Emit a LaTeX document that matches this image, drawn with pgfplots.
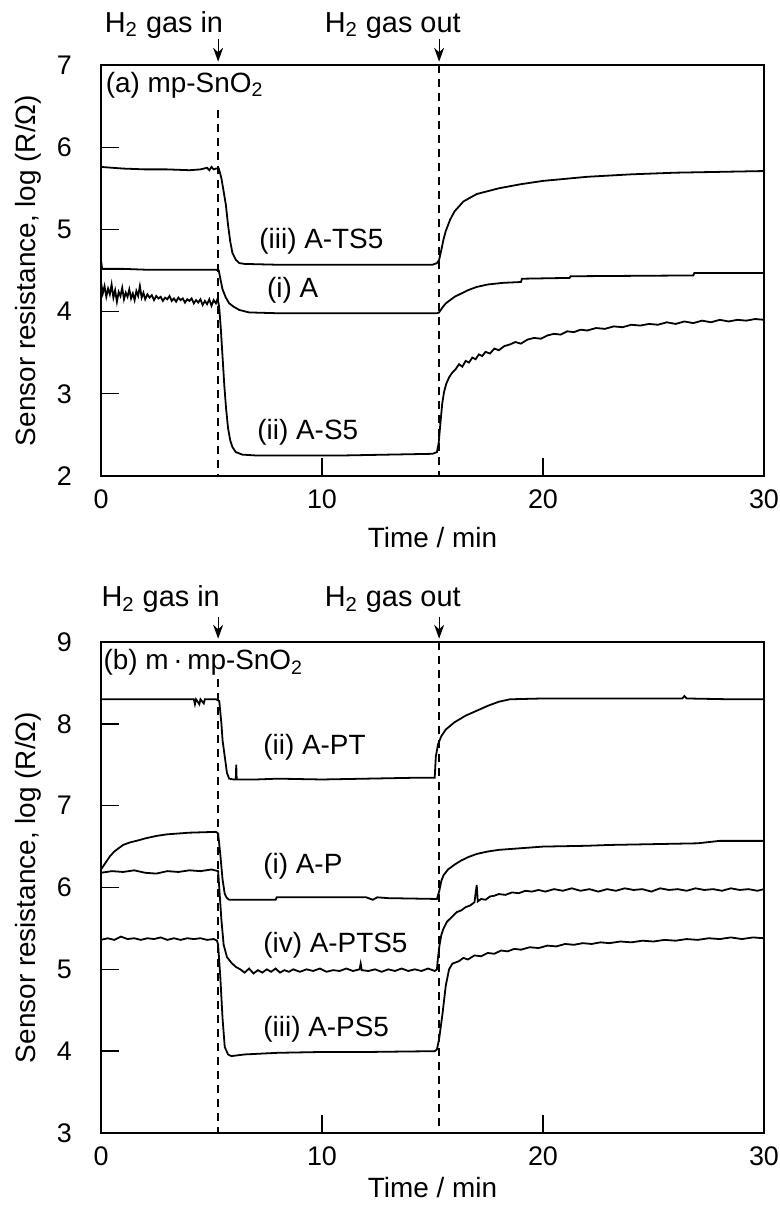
\documentclass[border=0pt]{standalone}
\usepackage{fontspec}
\setmainfont{Liberation Sans}
\usepackage{pgfplots}
\pgfplotsset{compat=1.18}
\usetikzlibrary{arrows.meta}

\newcommand{\tck}{\fontsize{13.5}{16}\selectfont}
\newcommand{\lbl}{\fontsize{14}{17}\selectfont}
\newcommand{\gas}{\fontsize{14.5}{17}\selectfont}

\pgfplotsset{
  sensor/.style={
    scale only axis,
    width=331.5bp,
    xmin=0, xmax=30,
    xtick={0,10,20,30},
    tick pos=left,
    tick align=inside,
    major tick length=9bp,
    axis line style={line width=0.9pt},
    every tick/.style={black, line width=0.7pt},
    tick label style={font=\tck},
    yticklabel style={xshift=-11bp},
    xticklabel style={yshift=-3.5bp},
    /pgf/number format/assume math mode=true,
    label style={font=\lbl},
    xlabel={Time / min},
    ylabel={Sensor resistance, log (R/Ω)},
    ylabel style={at={(ticklabel cs:0.5,1bp)}},
    clip=false,
  },
}
\tikzset{
  curve/.style={black, line width=0.9pt, mark=none},
  gasline/.style={dash pattern=on 4bp off 3bp, line width=0.7pt},
  gasarrow/.style={-{Stealth[length=7bp,width=5bp]}, line width=0.6pt},
}

\begin{document}
\begin{tikzpicture}
\path[use as bounding box] (0,0) rectangle (390bp,-602.5bp);

% ---------- (a) mp-SnO2 ----------
\begin{axis}[sensor,
    at={(50.5bp,-32.5bp)}, anchor=north west,
    height=205.5bp,
    ymin=2, ymax=7, ytick={2,...,7},
    xlabel style={yshift=-2.5bp},
  ]
  % (iii) A-TS5
  \addplot[curve] coordinates {
    (0,5.76) (0.5,5.75) (1,5.74) (2,5.73) (3,5.73) (4,5.72) (4.5,5.73)
    (4.8,5.75) (4.9,5.72) (5.0,5.76) (5.1,5.73) (5.2,5.74) (5.33,5.74)
    (5.45,5.62) (5.55,5.46) (5.65,5.3) (5.75,5.05) (5.85,4.85) (5.95,4.71)
    (6.1,4.63) (6.26,4.59) (6.5,4.58) (8,4.57) (10,4.57) (12,4.57) (14,4.57)
    (15.0,4.57) (15.2,4.59) (15.3,4.63) (15.4,4.75) (15.5,4.88) (15.6,4.98)
    (15.8,5.12) (16.0,5.22) (16.4,5.34) (17,5.43) (18,5.5) (19,5.55)
    (20,5.59) (22,5.64) (24,5.67) (26,5.69) (28,5.7) (30,5.71)
  };
  % (i) A
  \addplot[curve] coordinates {
    (0,4.63) (0.05,4.52) (1,4.52) (2,4.51) (3,4.51) (5.2,4.51) (5.33,4.5)
    (5.4,4.4) (5.5,4.27) (5.65,4.17) (5.8,4.1) (6.0,4.06) (6.26,4.02)
    (6.7,3.99) (8,3.98) (15.2,3.98) (15.3,3.99) (15.45,4.05) (15.6,4.1)
    (15.8,4.14) (16.0,4.18) (16.3,4.22) (16.6,4.26) (17.0,4.3) (17.5,4.33)
    (18.2,4.35) (19.0,4.36) (19.05,4.4) (21.2,4.41) (21.25,4.43)
    (26.8,4.44) (26.85,4.47) (30,4.47)
  };
  % (ii) A-S5
  \addplot[curve] coordinates {
    (0.00,4.36) (0.08,4.22) (0.16,4.31) (0.24,4.18) (0.32,4.28) (0.40,4.21)
    (0.48,4.33) (0.56,4.17) (0.64,4.26) (0.72,4.12) (0.80,4.24) (0.88,4.19)
    (0.96,4.29) (1.04,4.15) (1.12,4.23) (1.20,4.18) (1.28,4.27) (1.36,4.16)
    (1.44,4.22) (1.52,4.14) (1.60,4.25) (1.68,4.19) (1.76,4.31) (1.84,4.17)
    (1.92,4.23) (2.00,4.15) (2.10,4.21) (2.20,4.17) (2.30,4.20) (2.40,4.14)
    (2.50,4.19) (2.60,4.16) (2.70,4.18) (2.80,4.13) (2.90,4.17) (3.00,4.15)
    (3.10,4.19) (3.20,4.13) (3.30,4.16) (3.40,4.12) (3.50,4.17) (3.60,4.14)
    (3.70,4.16) (3.80,4.11) (3.90,4.15) (4.00,4.13) (4.10,4.16) (4.20,4.10)
    (4.30,4.14) (4.40,4.11) (4.50,4.15) (4.60,4.08) (4.70,4.13) (4.80,4.09)
    (4.90,4.15) (5.00,4.07) (5.10,4.14) (5.20,4.10) (5.28,4.16) (5.35,4.05)
    (5.42,3.80) (5.50,3.45) (5.58,3.10) (5.66,2.82) (5.75,2.58) (5.85,2.43)
    (5.95,2.35) (6.10,2.29) (6.40,2.26) (7.00,2.25) (9.00,2.25) (11.00,2.25)
    (13.00,2.26) (15.00,2.27) (15.20,2.29) (15.28,2.40) (15.36,2.65)
    (15.44,2.88) (15.52,3.02) (15.62,3.12) (15.75,3.20) (15.90,3.26)
    (16.05,3.30) (16.20,3.36) (16.35,3.33) (16.50,3.40) (16.65,3.38)
    (16.80,3.44) (16.95,3.42) (17.10,3.48) (17.25,3.46) (17.40,3.51)
    (17.60,3.49) (17.80,3.55) (18.00,3.53) (18.25,3.58) (18.50,3.60)
    (18.75,3.63) (19.00,3.61) (19.30,3.66) (19.60,3.68) (19.90,3.67)
    (20.20,3.71) (20.50,3.73) (20.80,3.72) (21.10,3.76) (21.40,3.75)
    (21.70,3.78) (22.00,3.77) (22.40,3.80) (22.80,3.79) (23.20,3.82)
    (23.60,3.81) (24.00,3.84) (24.40,3.83) (24.80,3.85) (25.20,3.84)
    (25.60,3.87) (26.00,3.85) (26.40,3.88) (26.80,3.86) (27.20,3.89)
    (27.60,3.87) (28.00,3.90) (28.40,3.88) (28.80,3.90) (29.20,3.89)
    (29.60,3.91) (30.00,3.90)
  };
  % gas in / out markers
  \draw[gasline] (axis cs:5.3,6.45) -- (axis cs:5.3,2);
  \draw[gasline] (axis cs:15.3,7) -- (axis cs:15.3,2);
  \draw[gasarrow] (axis cs:5.3,7.32) -- (axis cs:5.3,7.04);
  \draw[gasarrow] (axis cs:15.3,7.32) -- (axis cs:15.3,7.04);
  \node[font=\gas, anchor=base] at (axis cs:2.85,7.4) {H\textsubscript{2} gas in};
  \node[font=\gas, anchor=base] at (axis cs:13.2,7.4) {H\textsubscript{2} gas out};
  % labels
  \node[font=\lbl, anchor=base west, inner sep=0pt] at (axis cs:0.2,6.67) {(a) mp-SnO\textsubscript{2}};
  \node[font=\lbl, anchor=base west, inner sep=0pt] at (axis cs:7.15,4.77) {(iii) A-TS5};
  \node[font=\lbl, anchor=base west, inner sep=0pt] at (axis cs:7.5,4.17) {(i) A};
  \node[font=\lbl, anchor=base west, inner sep=0pt] at (axis cs:7.06,2.44) {(ii) A-S5};
\end{axis}

% ---------- (b) m.mp-SnO2 ----------
\begin{axis}[sensor,
    at={(50.5bp,-321bp)}, anchor=north west,
    height=245.5bp,
    ymin=3, ymax=9, ytick={3,...,9},
    xlabel style={yshift=1bp},
  ]
  % (ii) A-PT
  \addplot[curve] coordinates {
    (0,8.3) (4.2,8.3) (4.25,8.24) (4.3,8.3) (4.45,8.24) (4.5,8.3)
    (4.65,8.25) (4.7,8.3) (5.2,8.3) (5.35,8.28) (5.45,8.0) (5.5,7.8)
    (5.6,7.6) (5.7,7.4) (5.8,7.33) (6.0,7.32) (6.1,7.32) (6.12,7.5)
    (6.14,7.32) (7,7.32) (8,7.33) (10,7.32) (12,7.33) (14,7.34) (15.1,7.34)
    (15.15,7.6) (15.25,7.75) (15.4,7.85) (15.6,7.93) (16,8.02) (16.5,8.1)
    (17,8.16) (17.5,8.22) (18,8.27) (18.5,8.3) (20,8.31) (25,8.31)
    (26.3,8.31) (26.4,8.34) (26.5,8.31) (28.5,8.3) (30,8.3)
  };
  % (i) A-P
  \addplot[curve] coordinates {
    (0,6.22) (0.2,6.3) (0.4,6.38) (0.6,6.44) (0.8,6.48) (1.0,6.52)
    (1.3,6.55) (1.6,6.57) (2.0,6.6) (2.5,6.63) (3,6.65) (3.5,6.66)
    (4,6.67) (5.2,6.68) (5.3,6.66) (5.4,6.4) (5.5,6.1) (5.6,5.92)
    (5.7,5.87) (5.8,5.85) (7.9,5.85) (7.95,5.88) (12,5.88) (12.3,5.85)
    (12.5,5.88) (13,5.87) (15.2,5.86) (15.3,5.95) (15.4,6.08) (15.5,6.15)
    (15.7,6.22) (16,6.28) (16.3,6.33) (16.6,6.37) (17,6.41) (17.5,6.44)
    (18,6.46) (19,6.48) (20,6.5) (22,6.51) (23,6.52) (25,6.53) (27,6.54)
    (28,6.57) (30,6.57)
  };
  % (iv) A-PTS5
  \addplot[curve] coordinates {
    (0,6.18) (0.5,6.2) (1,6.19) (1.5,6.21) (2,6.18) (2.5,6.17) (3,6.2)
    (3.5,6.19) (4,6.21) (4.5,6.2) (5,6.22) (5.3,6.2) (5.35,6.0) (5.45,5.6)
    (5.55,5.3) (5.7,5.15) (5.9,5.08) (6.1,5.03) (6.3,5.0) (6.5,4.96)
    (6.7,5.01) (6.9,4.95) (7.1,4.99) (7.3,4.96) (7.5,5.0) (7.7,4.97)
    (7.9,5.01) (8.1,4.96) (8.3,4.99) (8.5,4.97) (8.7,5.0) (9,4.97)
    (9.3,5.0) (9.6,4.98) (9.9,5.01) (10.2,4.97) (10.5,4.99) (10.8,4.98)
    (11.1,5.01) (11.4,4.98) (11.7,5.0) (11.75,5.07) (11.8,4.99) (12.1,4.98)
    (12.4,5.0) (12.7,4.97) (13,5.0) (13.3,4.98) (13.6,5.01) (13.9,4.98)
    (14.2,5.0) (14.5,4.98) (14.8,5.01) (15.1,4.98) (15.2,5.0) (15.25,5.15)
    (15.32,5.3) (15.4,5.42) (15.5,5.5) (15.65,5.58) (15.8,5.62) (15.95,5.66)
    (16.1,5.7) (16.3,5.72) (16.5,5.76) (16.7,5.78) (16.9,5.82) (17.0,6.03)
    (17.05,5.83) (17.2,5.86) (17.4,5.85) (17.6,5.89) (17.8,5.9) (18.0,5.92)
    (18.3,5.91) (18.6,5.94) (18.9,5.93) (19.2,5.96) (19.5,5.95) (19.8,5.97)
    (20.1,5.95) (20.5,5.98) (20.9,5.96) (21.3,5.99) (21.7,5.96) (22.1,5.98)
    (22.5,5.95) (22.9,5.98) (23.3,5.96) (23.7,5.99) (24.1,5.97) (24.5,5.98)
    (24.9,5.95) (25.3,5.99) (25.7,5.97) (26.1,5.98) (26.5,5.96) (26.9,5.99)
    (27.3,5.97) (27.7,5.98) (28.1,5.96) (28.5,5.99) (28.9,5.97) (29.3,5.98)
    (29.7,5.96) (30,5.98)
  };
  % (iii) A-PS5
  \addplot[curve] coordinates {
    (0,5.36) (0.3,5.38) (0.6,5.36) (0.9,5.4) (1.2,5.37) (1.5,5.38)
    (1.8,5.36) (2.1,5.38) (2.4,5.37) (2.7,5.39) (3.0,5.36) (3.3,5.38)
    (3.6,5.36) (3.9,5.38) (4.2,5.37) (4.5,5.38) (4.8,5.36) (5.1,5.37)
    (5.25,5.35) (5.3,5.3) (5.4,4.9) (5.5,4.4) (5.6,4.05) (5.75,3.96)
    (5.9,3.94) (6.5,3.96) (8,3.98) (10,3.99) (12,3.99) (15.1,4.0)
    (15.2,4.02) (15.3,4.15) (15.45,4.45) (15.6,4.8) (15.75,5.0) (15.9,5.07)
    (16.2,5.1) (16.4,5.14) (16.6,5.12) (16.9,5.17) (17.2,5.16) (17.5,5.2)
    (17.8,5.19) (18.1,5.23) (18.4,5.22) (18.7,5.25) (19.0,5.24) (19.4,5.27)
    (19.8,5.26) (20.2,5.29) (20.6,5.28) (21.0,5.31) (21.4,5.3) (21.8,5.32)
    (22.2,5.31) (22.6,5.33) (23.0,5.32) (23.5,5.34) (24.0,5.33) (24.5,5.35)
    (25.0,5.34) (25.5,5.36) (26.0,5.35) (26.5,5.37) (27.0,5.36) (27.5,5.38)
    (28.0,5.37) (28.5,5.39) (29.0,5.37) (29.5,5.39) (30,5.38)
  };
  % gas in / out markers
  \draw[gasline] (axis cs:5.3,8.55) -- (axis cs:5.3,3);
  \draw[gasline] (axis cs:15.3,9) -- (axis cs:15.3,3);
  \draw[gasarrow] (axis cs:5.3,9.3) -- (axis cs:5.3,9.04);
  \draw[gasarrow] (axis cs:15.3,9.3) -- (axis cs:15.3,9.04);
  \node[font=\gas, anchor=base] at (axis cs:2.7,9.43) {H\textsubscript{2} gas in};
  \node[font=\gas, anchor=base] at (axis cs:13.2,9.43) {H\textsubscript{2} gas out};
  % labels
  \node[font=\lbl, anchor=base west, inner sep=0pt] at (axis cs:0.1,8.66) {(b) m\,·\,mp-SnO\textsubscript{2}};
  \node[font=\lbl, anchor=base west, inner sep=0pt] at (axis cs:7.33,7.62) {(ii) A-PT};
  \node[font=\lbl, anchor=base west, inner sep=0pt] at (axis cs:7.33,6.17) {(i) A-P};
  \node[font=\lbl, anchor=base west, inner sep=0pt] at (axis cs:7.33,5.2) {(iv) A-PTS5};
  \node[font=\lbl, anchor=base west, inner sep=0pt] at (axis cs:7.33,4.18) {(iii) A-PS5};
\end{axis}
\end{tikzpicture}
\end{document}
